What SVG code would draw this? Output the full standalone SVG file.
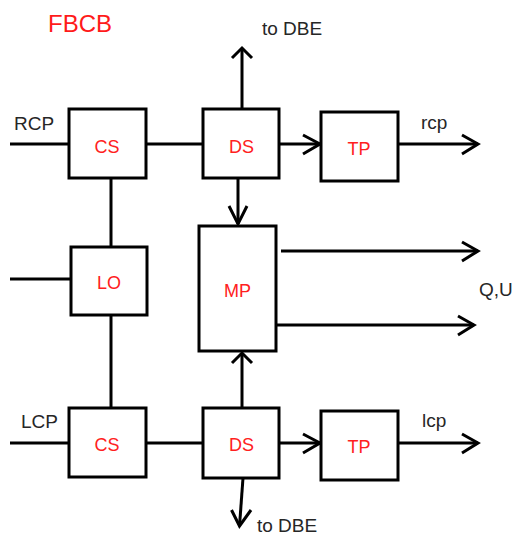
<svg xmlns="http://www.w3.org/2000/svg" width="518" height="538" viewBox="0 0 518 538">
<style>
.box{fill:#fff;stroke:#000;stroke-width:3}
.ln{fill:none;stroke:#000;stroke-width:3}
.hd{fill:none;stroke:#000;stroke-width:3;stroke-linejoin:miter}
.lbl{font-family:"Liberation Sans",Arial,sans-serif;font-size:18px;fill:#ff2020;text-anchor:middle}
.txt{font-family:"Liberation Sans",Arial,sans-serif;font-size:19px;fill:#262626}
</style>
<rect width="518" height="538" fill="#fff"/>
<text x="48" y="32" font-family="Liberation Sans, Arial, sans-serif" font-size="24" fill="#ff1a1a">FBCB</text>
<g id="connectors">
<line class="ln" x1="10" y1="144" x2="69" y2="144"/>
<line class="ln" x1="146" y1="144" x2="203" y2="144"/>
<line class="ln" x1="279" y1="144" x2="320" y2="144"/>
<polyline class="hd" points="303,135 320,144 303,154"/>
<line class="ln" x1="398" y1="144" x2="478" y2="144"/>
<polyline class="hd" points="462,135 478,144 462,154"/>
<line class="ln" x1="242" y1="109" x2="242" y2="48"/>
<polyline class="hd" points="232,58 242,48 252,58"/>
<line class="ln" x1="238" y1="178" x2="238" y2="224"/>
<polyline class="hd" points="229,206 238,224 247,206"/>
<line class="ln" x1="111" y1="178" x2="111" y2="247"/>
<line class="ln" x1="111" y1="315" x2="111" y2="408"/>
<line class="ln" x1="10" y1="279" x2="71" y2="279"/>
<line class="ln" x1="281" y1="251" x2="478" y2="251"/>
<polyline class="hd" points="462,242 478,251 462,261"/>
<line class="ln" x1="276" y1="325" x2="474" y2="325"/>
<polyline class="hd" points="458,316 474,325 458,335"/>
<line class="ln" x1="242" y1="408" x2="242" y2="353"/>
<polyline class="hd" points="232,363 242,353 252,363"/>
<line class="ln" x1="10" y1="443" x2="69" y2="443"/>
<line class="ln" x1="146" y1="443" x2="203" y2="443"/>
<line class="ln" x1="279" y1="443" x2="320" y2="443"/>
<polyline class="hd" points="303,434 320,443 303,453"/>
<line class="ln" x1="398" y1="443" x2="478" y2="443"/>
<polyline class="hd" points="462,434 478,443 462,453"/>
<line class="ln" x1="243" y1="478" x2="239.5" y2="526"/>
<polyline class="hd" points="231.5,510 239.5,526 251,510"/>
</g>
<text class="txt" x="14" y="130">RCP</text>
<text class="txt" x="21" y="428">LCP</text>
<text class="txt" x="262" y="35">to DBE</text>
<text class="txt" x="257" y="532">to DBE</text>
<text class="txt" x="421" y="129">rcp</text>
<text class="txt" x="422" y="427">lcp</text>
<text class="txt" x="479" y="296">Q,U</text>
<g id="cs_top"><rect class="box" x="69" y="109" width="77" height="69"/><text class="lbl" x="107" y="153">CS</text></g>
<g id="ds_top"><rect class="box" x="203" y="109" width="76" height="69"/><text class="lbl" x="241.5" y="153">DS</text></g>
<g id="tp_top"><rect class="box" x="321" y="112" width="77" height="69"/><text class="lbl" x="359" y="155">TP</text></g>
<g id="lo"><rect class="box" x="71" y="247" width="76" height="68"/><text class="lbl" x="109" y="289">LO</text></g>
<g id="mp"><rect class="box" x="199" y="226" width="77" height="125"/><text class="lbl" x="237.5" y="297">MP</text></g>
<g id="cs_bot"><rect class="box" x="69" y="408" width="77" height="69"/><text class="lbl" x="107" y="451">CS</text></g>
<g id="ds_bot"><rect class="box" x="203" y="408" width="76" height="70"/><text class="lbl" x="241.5" y="451">DS</text></g>
<g id="tp_bot"><rect class="box" x="321" y="411" width="77" height="69"/><text class="lbl" x="359" y="453">TP</text></g>
</svg>
